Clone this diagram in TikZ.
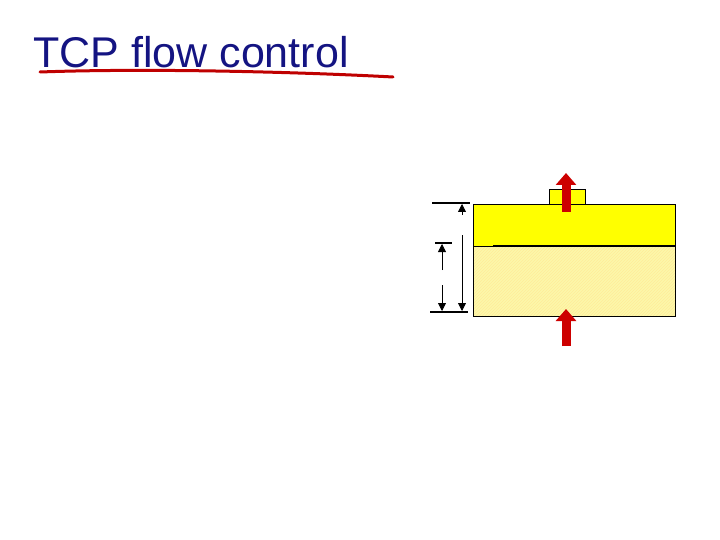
\documentclass[tikz,border=0pt]{standalone}
\usepackage{fontspec}
\setmainfont{Liberation Sans}
\usetikzlibrary{patterns,arrows.meta}
\definecolor{ttl}{RGB}{20,20,130}
\definecolor{buf}{RGB}{255,255,0}
\definecolor{hat}{RGB}{252,248,170}
\definecolor{arr}{RGB}{205,0,0}
\tikzset{dim/.style={black,thick,-{Triangle[length=8pt,width=8pt]}},
 bar/.style={black,line width=2pt},
 fat/.style={arr,line width=9pt,-{Triangle[length=12pt,width=20pt]}}}
\begin{document}
\begin{tikzpicture}[x=1pt,y=-1pt]
\useasboundingbox (0,0) rectangle (720,540);
\node[anchor=west,text=ttl,font=\fontsize{43}{43}\selectfont,inner sep=0] (title) at (33,52) {TCP flow control};
\draw[red!75!black,line width=3pt,line cap=round] (40,72) .. controls (150,68) and (300,72) .. (393,77);
\node[draw,fill=buf,minimum width=36pt,minimum height=15pt,inner sep=0,anchor=south west] (small) at (549,204) {};
\fill[hat] (473,246) rectangle (675,316);
\fill[pattern=north east lines,pattern color=buf!60!orange!40] (473,246) rectangle (675,316);
\fill[buf] (473,204) rectangle (675,246);
\node[draw,minimum width=202pt,minimum height=112pt,inner sep=0,anchor=north west] (buffer) at (473,204) {};
\draw[thin] (473,246) -- (493,246);
\draw[line width=2.5pt] (493,246) -- (675,246);
\coordinate (t1) at (432,203); \coordinate (t2) at (470,203);
\coordinate (m1) at (435,243); \coordinate (m2) at (452,243);
\coordinate (b1) at (430,312); \coordinate (b2) at (468,312);
\draw[bar] (t1) -- (t2); \draw[bar] (m1) -- (m2); \draw[bar] (b1) -- (b2);
\draw[dim] (462,215) -- (462,204);
\draw[dim] (462,235) -- (462,311);
\draw[dim] (442,270) -- (442,244);
\draw[dim] (442,285) -- (442,311);
\coordinate (o1) at (566,212); \coordinate (o2) at (566,173);
\coordinate (i1) at (566,346); \coordinate (i2) at (566,309);
\draw[fat] (o1) -- (o2);
\draw[fat] (i1) -- (i2);
\end{tikzpicture}
\end{document}
